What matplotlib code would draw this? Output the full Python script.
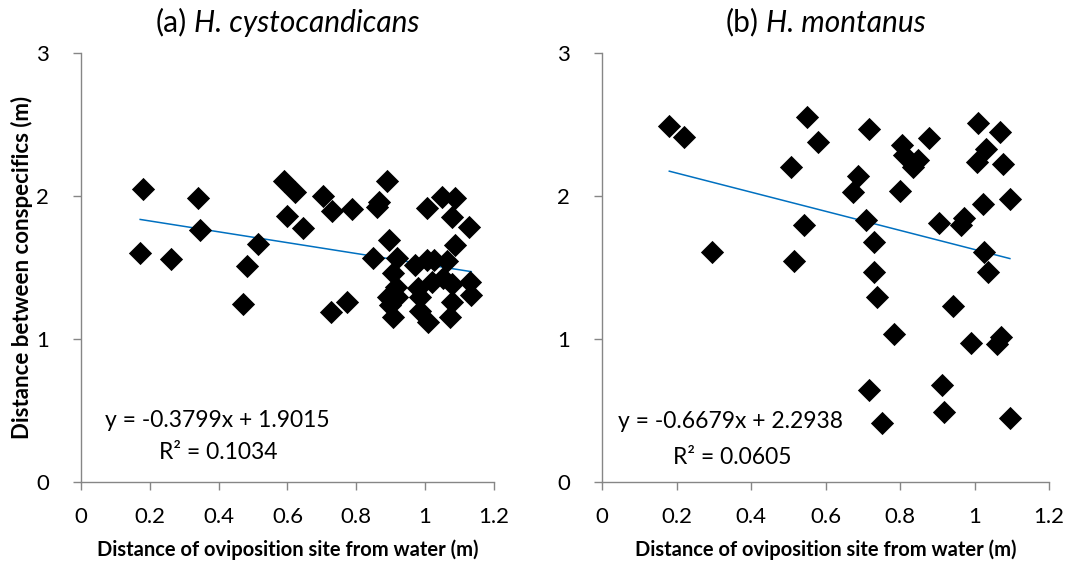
import matplotlib.pyplot as plt
import numpy as np

plt.rcParams["font.family"] = ["Lato", "DejaVu Sans"]

# (a) H. cystocandicans
a_x = [0.181, 0.172, 0.262, 0.341, 0.347, 0.513, 0.483, 0.470, 0.590, 0.622,
       0.598, 0.646, 0.704, 0.728, 0.787, 0.890, 0.867, 0.861, 0.895, 0.850,
       0.918, 0.906, 0.914, 0.893, 0.918, 0.898, 0.906, 0.726, 0.773, 1.005,
       1.050, 1.087, 1.078, 1.128, 1.086, 0.971, 1.005, 1.026, 1.063, 1.019,
       1.053, 1.079, 0.978, 0.985, 0.985, 1.008, 1.078, 1.073, 1.131, 1.134]
a_y = [2.048, 1.599, 1.557, 1.985, 1.763, 1.665, 1.511, 1.246, 2.108, 2.027,
       1.861, 1.775, 2.001, 1.898, 1.910, 2.108, 1.961, 1.926, 1.693, 1.569,
       1.564, 1.459, 1.366, 1.296, 1.296, 1.237, 1.155, 1.188, 1.256, 1.919,
       1.996, 1.985, 1.856, 1.782, 1.660, 1.518, 1.553, 1.553, 1.548, 1.401,
       1.424, 1.384, 1.354, 1.296, 1.197, 1.116, 1.261, 1.155, 1.396, 1.305]
a_fit = (-0.3799, 1.9015)
a_r2 = 0.1034

# (b) H. montanus
b_x = [0.180, 0.220, 0.294, 0.551, 0.580, 0.507, 0.541, 0.515, 0.717, 0.804,
       0.811, 0.849, 0.836, 0.879, 0.687, 0.673, 0.800, 0.708, 0.729, 0.731,
       0.737, 0.904, 0.973, 0.964, 1.009, 1.069, 1.030, 1.006, 1.076, 1.022,
       1.095, 1.026, 1.036, 0.784, 0.942, 0.991, 1.070, 1.060, 0.717, 0.751,
       0.913, 0.918, 1.095]
b_y = [2.490, 2.415, 1.610, 2.555, 2.376, 2.205, 1.797, 1.543, 2.466, 2.357,
       2.287, 2.252, 2.205, 2.408, 2.140, 2.026, 2.037, 1.832, 1.676, 1.471,
       1.296, 1.809, 1.844, 1.797, 2.513, 2.445, 2.329, 2.240, 2.224, 1.942,
       1.981, 1.610, 1.466, 1.035, 1.231, 0.970, 1.016, 0.965, 0.643, 0.415,
       0.678, 0.490, 0.448]
b_fit = (-0.6679, 2.2938)
b_r2 = 0.0605

x_ticks = [0, 0.2, 0.4, 0.6, 0.8, 1, 1.2]
x_tick_labels = ["0", "0.2", "0.4", "0.6", "0.8", "1", "1.2"]
y_ticks = [0, 1, 2, 3]

axis_grey = "#868686"

fig = plt.figure(figsize=(10.74, 5.70), dpi=100)
ax_a = fig.add_axes([0.0754, 0.155, 0.3845, 0.7516])
ax_b = fig.add_axes([0.5608, 0.1544, 0.4159, 0.7526])
renderer = fig.canvas.get_renderer()


def mixed_title(ax, prefix, name, size=21.5, y=1.05):
    # upright panel letter followed by italic species name, centred together
    t1 = ax.text(0, y, prefix, transform=ax.transAxes, fontsize=size,
                 ha="left", va="baseline")
    t2 = ax.text(0, y, " " + name, transform=ax.transAxes, fontsize=size,
                 style="italic", ha="left", va="baseline")
    ax_w = ax.get_window_extent(renderer).width
    w1 = t1.get_window_extent(renderer).width / ax_w
    w2 = t2.get_window_extent(renderer).width / ax_w
    x0 = 0.5 - (w1 + w2) / 2
    t1.set_x(x0)
    t2.set_x(x0 + w1)


def draw_panel(ax, xs, ys, fit, r2, prefix, name, eq_pos, r2_pos):
    ax.scatter(xs, ys, marker="D", s=140, c="black", linewidths=0, zorder=3)
    slope, icpt = fit
    lx = np.array([min(xs), max(xs)])
    ax.plot(lx, slope * lx + icpt, color="#0070C0", lw=1.1, zorder=2)

    ax.set_xlim(0, 1.2)
    ax.set_ylim(0, 3)
    ax.set_xticks(x_ticks)
    ax.set_xticklabels(x_tick_labels)
    ax.set_yticks(y_ticks)
    for side in ["top", "right"]:
        ax.spines[side].set_visible(False)
    for side in ["left", "bottom"]:
        ax.spines[side].set_color(axis_grey)
        ax.spines[side].set_linewidth(1.0)
    ax.tick_params(direction="out", length=6, width=1.0, color=axis_grey,
                   labelsize=16)
    ax.tick_params(axis="x", pad=12)
    ax.tick_params(axis="y", pad=17)
    mixed_title(ax, prefix, name)
    ax.set_xlabel("Distance of oviposition site from water (m)",
                  fontsize=14.5, fontweight="bold", labelpad=9)
    sign = "-" if slope < 0 else ""
    ax.text(eq_pos[0], eq_pos[1],
            f"y = {sign}{abs(slope):.4f}x + {icpt:.4f}",
            transform=ax.transAxes, fontsize=16.5, ha="left", va="center")
    ax.text(r2_pos[0], r2_pos[1], f"R\u00b2 = {r2:.4f}",
            transform=ax.transAxes, fontsize=16.5, ha="left", va="center")


draw_panel(ax_a, a_x, a_y, a_fit, a_r2, "(a)", "H. cystocandicans",
           (0.058, 0.142), (0.19, 0.068))
draw_panel(ax_b, b_x, b_y, b_fit, b_r2, "(b)", "H. montanus",
           (0.036, 0.14), (0.158, 0.058))

ax_a.set_ylabel("Distance between conspecifics (m)", fontsize=16,
                fontweight="bold", labelpad=2)

fig.savefig("out.png", dpi=100)
